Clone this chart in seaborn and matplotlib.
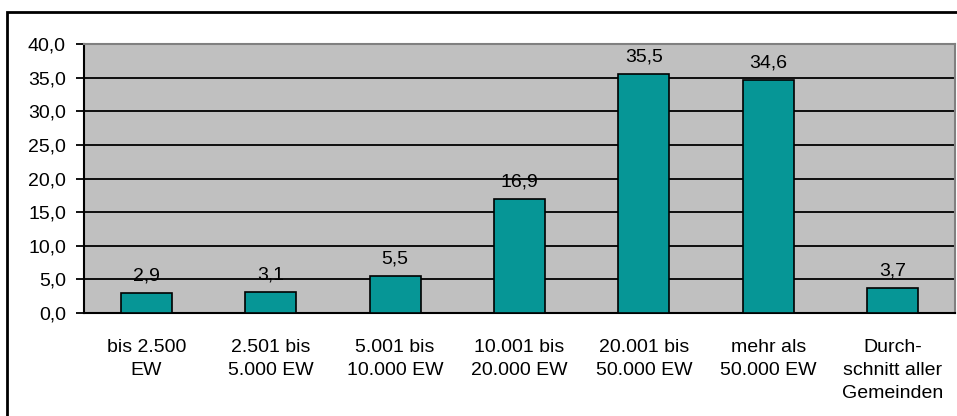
import matplotlib
matplotlib.use("Agg")
import matplotlib.pyplot as plt
import seaborn as sns
import numpy as np
import pandas as pd
from matplotlib.patches import Rectangle

# Daten
kategorien = ["bis 2.500\nEW", "2.501 bis\n5.000 EW", "5.001 bis\n10.000 EW",
              "10.001 bis\n20.000 EW", "20.001 bis\n50.000 EW", "mehr als\n50.000 EW",
              "Durch-\nschnitt aller\nGemeinden"]
werte = [2.9, 3.1, 5.5, 16.9, 35.5, 34.6, 3.7]
y_ticks = [0, 5, 10, 15, 20, 25, 30, 35, 40]

sns.set_style("white")
plt.rcParams['font.family'] = ['Liberation Sans', 'DejaVu Sans']
plt.rcParams['text.color'] = 'black'
plt.rcParams['xtick.color'] = 'black'
plt.rcParams['ytick.color'] = 'black'
plt.rcParams['xtick.labelcolor'] = 'black'
plt.rcParams['ytick.labelcolor'] = 'black'

FS = 14

df = pd.DataFrame({"kat": kategorien, "wert": werte})

fig = plt.figure(figsize=(9.57, 4.16), dpi=100)
ax = fig.add_axes([84/957, 1 - 313/416, (955 - 84)/957, (313 - 44)/416])

sns.barplot(data=df, x="kat", y="wert", color="#069696", saturation=1,
            width=0.41, edgecolor="black", linewidth=1.2, ax=ax, zorder=3)

ax.set_facecolor("#c0c0c0")
ax.set_ylim(0, 40)
ax.set_xlim(-0.5, len(kategorien) - 0.5)
ax.set_yticks(y_ticks)
ax.set_yticklabels([f"{v:.1f}".replace(".", ",") for v in y_ticks], fontsize=FS)
for v in y_ticks[1:]:
    ax.axhline(v, color="black", linewidth=1.3, zorder=1)

ax.set_xticks(range(len(kategorien)))
ax.set_xticklabels(kategorien, fontsize=FS, linespacing=1.45)
ax.tick_params(axis="x", which="major", length=0, pad=19)
ax.set_xticks(np.arange(-0.5, len(kategorien), 1), minor=True)
ax.tick_params(axis="x", which="minor", length=6, width=1.3, color="black", direction="out")
ax.tick_params(axis="y", length=6, width=1.3, color="black", direction="out", left=True, pad=7)
ax.set_xlabel("")
ax.set_ylabel("")

for side in ["top", "right"]:
    ax.spines[side].set_color("#808080")
    ax.spines[side].set_linewidth(1.5)
for side in ["left", "bottom"]:
    ax.spines[side].set_color("black")
    ax.spines[side].set_linewidth(1.5)

for i, v in enumerate(werte):
    ax.annotate(f"{v:.1f}".replace(".", ","), (i, v), xytext=(0, 9),
                textcoords="offset points", ha="center", va="baseline",
                fontsize=FS, color="black", zorder=4)

# Rahmen um das Diagramm
fig.patches.append(Rectangle((7/957, -0.1), 1.2, 0.1 + 1 - 12/416, transform=fig.transFigure,
                             fill=False, edgecolor="black", linewidth=2, zorder=10))

fig.savefig("out.png", dpi=100)
